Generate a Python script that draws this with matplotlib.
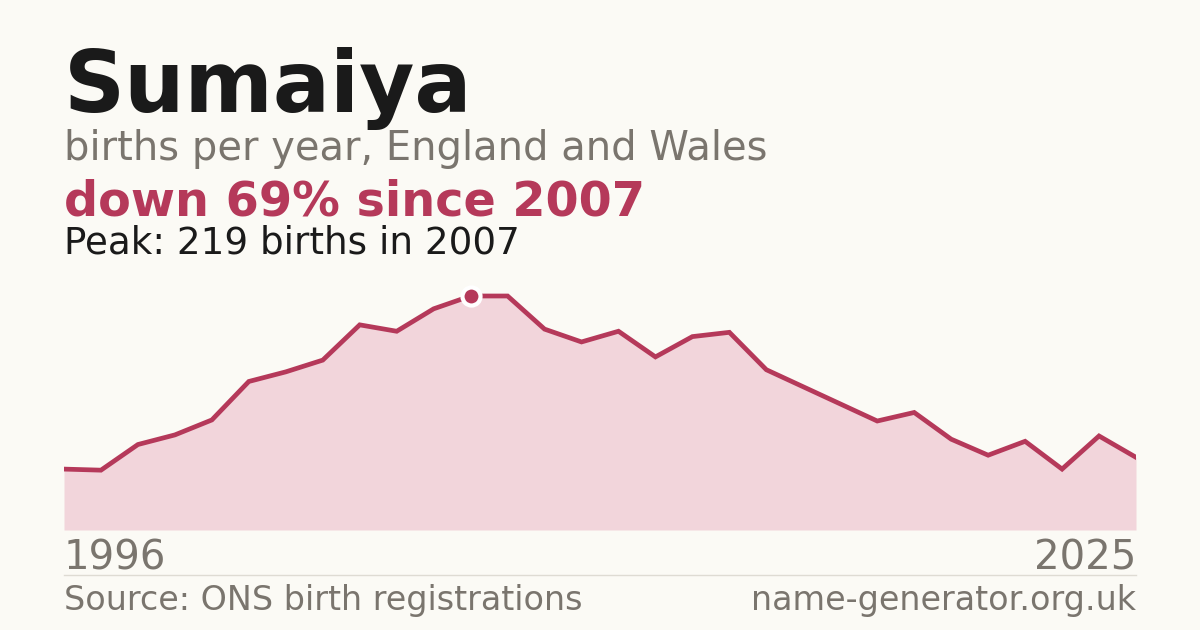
import matplotlib
matplotlib.use("Agg")
import matplotlib.pyplot as plt

plt.rcParams["font.family"] = ["DejaVu Sans"]

years = list(range(1996, 2026))
births = [57, 56, 80, 89, 103, 139, 148, 159, 192, 186, 207, 219, 219, 188, 176,
          186, 162, 181, 185, 150, 134, 118, 102, 110, 85, 70, 83, 57, 88, 68]

name = "Sumaiya"
subtitle = "births per year, England and Wales"
change_text = "down 69% since 2007"
peak_text = "Peak: 219 births in 2007"
source_text = "Source: ONS birth registrations"
site_text = "name-generator.org.uk"

BG = "#fbfaf5"
RED = "#b5395a"
FILL = "#f2d5db"
GREY = "#7a756e"
DARK = "#1a1a1a"

W, H = 1200, 630
fig = plt.figure(figsize=(12, 6.3), dpi=100, facecolor=BG)

def fx(px):
    return px / W

def fy(py):
    return 1 - py / H

peak_val = max(births)
peak_year = years[births.index(peak_val)]

ax = fig.add_axes([fx(64), fy(530), fx(1136) - fx(64), fy(270) - fy(530)])
ax.set_facecolor(BG)
ax.fill_between(years, births, 0, color=FILL, linewidth=0)
ax.plot(years, births, color=RED, linewidth=3.4, solid_joinstyle="miter")
ax.plot([peak_year], [peak_val], "o", color=RED, markersize=13,
        markeredgecolor="white", markeredgewidth=3, clip_on=False, zorder=5)
ax.set_xlim(years[0], years[-1])
ax.set_ylim(0, peak_val * 260 / 234)
ax.axis("off")

fig.text(fx(64), fy(112), name, fontsize=61, fontweight="bold", color=DARK,
         ha="left", va="baseline")
fig.text(fx(64), fy(160), subtitle, fontsize=28.8, color=GREY, ha="left", va="baseline")
fig.text(fx(64), fy(215), change_text, fontsize=34.4, fontweight="bold", color=RED,
         ha="left", va="baseline")
fig.text(fx(64), fy(254), peak_text, fontsize=26.8, color=DARK, ha="left", va="baseline")

fig.text(fx(64), fy(569), str(years[0]), fontsize=29, color=GREY, ha="left", va="baseline")
fig.text(fx(1136), fy(569), str(years[-1]), fontsize=29, color=GREY, ha="right", va="baseline")

fig.add_artist(plt.Line2D([fx(64), fx(1136)], [fy(574.5), fy(574.5)],
                          color="#dedbd3", linewidth=1))

fig.text(fx(64), fy(610), source_text, fontsize=24, color=GREY, ha="left", va="baseline")
fig.text(fx(1136), fy(610), site_text, fontsize=24, color=GREY, ha="right", va="baseline")

fig.savefig("out.png", dpi=100, facecolor=BG)
